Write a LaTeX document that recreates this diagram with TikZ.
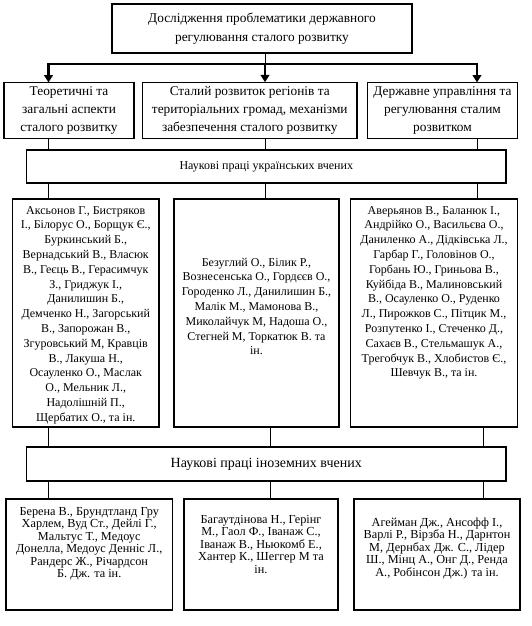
\documentclass[tikz,border=0pt]{standalone}
\usepackage{fontspec}
\setmainfont{Liberation Serif}
\usetikzlibrary{arrows.meta}

\begin{document}
\begin{tikzpicture}[x=0.75pt, y=-0.75pt,
  box/.style={draw, line width=0.8pt, align=center, inner xsep=2pt, inner ysep=3pt},
  lift/.style 2 args={text height=#1, text depth=#2},
  headfont/.style={font=\fontsize{10}{13.3}\selectfont},
  namefont/.style={font=\fontsize{9}{11.1}\selectfont},
  forfont/.style={font=\fontsize{9.2}{9.4}\selectfont},
  ln/.style={line width=0.75pt},
  thk/.style={line width=1.6pt},
  arr/.style={thk, -{Triangle[length=5.5pt, width=6.5pt]}}]
\fill[white] (0,0) rectangle (532,626);
\useasboundingbox (0,0) rectangle (532,626);
% topic
\node[box, font=\fontsize{10}{14.25}\selectfont, minimum width=225pt, minimum height=36.75pt] (top) at (262,28.5) {Дослідження проблематики державного\\регулювання сталого розвитку};
% directions
\node[box, headfont, minimum width=97.5pt, minimum height=39.75pt] (ta) at (69,110.5) {Теоретичні та\\загальні аспекти\\сталого розвитку};
\node[box, headfont, minimum width=160.9pt, minimum height=39.75pt] (tb) at (249.75,110.5) {Сталий розвиток регіонів та\\територіальних громад, механізми\\забезпечення сталого розвитку};
\node[box, headfont, minimum width=112.5pt, minimum height=39.75pt] (tc) at (442.5,110.5) {Державне управління та\\регулювання сталим\\розвитком};
% ukrainian authors
\node[box, font=\fontsize{9}{11}\selectfont, minimum width=359.6pt, minimum height=24.75pt] (ukr) at (266.25,166.5) {Наукові праці українських вчених};
\node[box, namefont, minimum width=109.9pt, lift={163.65pt}{1.35pt}] (ua) at (85.75,313) {Аксьонов Г., Бистряков\\І., Білорус О., Борщук Є.,\\Буркинський Б.,\\Вернадський В., Власюк\\В., Геєць В., Герасимчук\\З., Гриджук І.,\\Данилишин Б.,\\Демченко Н., Загорський\\В., Запорожан В.,\\Згуровський М, Кравців\\В., Лакуша Н.,\\Осауленко О., Маслак\\О., Мельник Л.,\\Надолішній П.,\\Щербатих О., та ін.};
\node[box, namefont, minimum width=123.75pt, lift={113.85pt}{51.15pt}] (ub) at (256.5,313) {Безуглий О., Білик Р.,\\Вознесенська О., Гордєєв О.,\\Городенко Л., Данилишин Б.,\\Малік М., Мамонова В.,\\Миколайчук М, Надоша О.,\\Стегней М, Торкатюк В. та\\ін.};
\node[box, namefont, minimum width=125.25pt, lift={130.35pt}{34.65pt}] (uc) at (434,313) {Аверьянов В., Баланюк І.,\\Андрійко О., Васильєва О.,\\Даниленко А., Дідківська Л.,\\Гарбар Г., Головінов О.,\\Горбань Ю., Гриньова В.,\\Куйбіда В., Малиновський\\В., Осауленко О., Руденко\\Л., Пирожков С., Пітцик М.,\\Розпутенко І., Стеченко Д.,\\Сахаєв В., Стельмашук А.,\\Трегобчук В., Хлобистов Є.,\\Шевчук В., та ін.};
% foreign authors
\node[box, font=\fontsize{10.5}{12}\selectfont, minimum width=359.6pt, minimum height=25.5pt] (for) at (266.25,464) {Наукові праці іноземних вчених};
\node[box, forfont, minimum width=124.9pt, lift={56pt}{21.25pt}] (fa) at (89.25,554.5) {Берена В., Брундтланд Гру\\Харлем, Вуд Ст., Дейлі Г.,\\Мальтус Т., Медоус\\Донелла, Медоус Денніс Л.,\\Рандерс Ж., Річардсон\\Б. Дж. та ін.};
\node[box, forfont, minimum width=115.5pt, lift={52.6pt}{24.65pt}] (fb) at (261,554.5) {Багаутдінова Н., Герінг\\М., Гаол Ф., Іванаж С.,\\Іванаж В., Ньюкомб Е.,\\Хантер К., Шеггер М та\\ін.};
\node[box, forfont, minimum width=124.5pt, lift={54.85pt}{22.4pt}] (fc) at (437,554.5) {Агейман Дж., Ансофф І.,\\Варлі Р., Вірзба Н., Дарнтон\\М, Дернбах Дж. С., Лідер\\Ш., Мінц А., Онг Д., Ренда\\А., Робінсон Дж.) та ін.};
% columns of the connectors
\coordinate (ka) at (48.5,64);
\coordinate (kb) at (265,64);
\coordinate (kc) at (477,64);
\coordinate (la) at (48.5,0);
\coordinate (lb) at (270.5,0);
\coordinate (lc) at (483.5,0);
\draw[ln] (top.south -| kb) -- (kb);
\draw[thk, line cap=rect] (ka) -- (kc);
\draw[arr] (ka) -- (ta.north -| ka); \draw[arr] (kb) -- (tb.north -| kb); \draw[arr] (kc) -- (tc.north -| kc);
\draw[ln] (ta.south -| ka) -- (ukr.north -| ka); \draw[ln] (tb.south -| kb) -- (ukr.north -| kb); \draw[ln] (tc.south -| kc) -- (ukr.north -| kc);
\draw[ln] (ukr.south -| ka) -- (ua.north -| ka); \draw[ln] (ukr.south -| kb) -- (ub.north -| kb); \draw[ln] (ukr.south -| kc) -- (uc.north -| kc);
\draw[ln] (ua.south -| la) -- (for.north -| la); \draw[ln] (ub.south -| lb) -- (for.north -| lb); \draw[ln] (uc.south -| lc) -- (for.north -| lc);
\draw[ln] (for.south -| la) -- (fa.north -| la); \draw[ln] (for.south -| lb) -- (fb.north -| lb); \draw[ln] (for.south -| lc) -- (fc.north -| lc);
\end{tikzpicture}
\end{document}
